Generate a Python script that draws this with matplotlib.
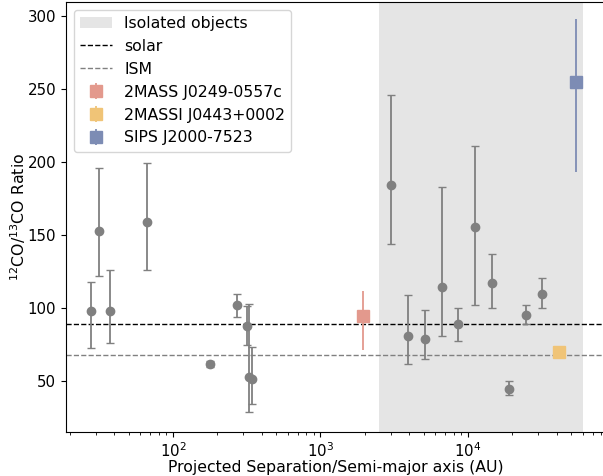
import numpy as np
import matplotlib.pyplot as plt

# Companion / isolated objects (gray points)
sep = [27.8, 31.6, 37.6, 66.4, 178, 273, 319, 329, 345,
       2990, 3900, 5080, 6640, 8590, 11150, 14550, 18900, 24600, 31900]
ratio = [97.7, 153.0, 97.7, 159.0, 61.6, 101.8, 87.8, 52.5, 51.5,
         184.2, 80.9, 78.9, 114.0, 89.0, 155.1, 116.9, 44.6, 95.4, 109.6]
err_up = [20.2, 43.1, 28.2, 39.9, 2.0, 8.0, 13.3, 50.2, 22.1,
          61.3, 28.1, 19.9, 69.1, 10.7, 55.9, 20.0, 5.1, 6.7, 10.6]
err_lo = [25.0, 31.2, 21.8, 33.1, 2.0, 7.8, 13.1, 23.7, 16.9,
          40.4, 19.3, 14.0, 33.1, 11.3, 53.0, 17.2, 4.1, 6.2, 9.9]

# highlighted objects
names = ["2MASS J0249-0557c", "2MASSI J0443+0002", "SIPS J2000-7523"]
hl_sep = [1950, 41400, 54000]
hl_ratio = [94.7, 69.7, 254.5]
hl_up = [17.2, 3.9, 43.4]
hl_lo = [23.4, 4.8, 61.5]
hl_colors = ["#E3998D", "#F0C477", "#7D8CB4"]

solar = 89
ism = 68

fig = plt.figure(figsize=(6.03, 4.76), dpi=100)
ax = fig.add_axes([66 / 603, 44 / 476, 539 / 603, 430 / 476])

ax.axvspan(2500, 60000, color="#e5e5e5", lw=0, label="Isolated objects", zorder=0)
ax.axhline(solar, color="black", ls="--", lw=1, label="solar", zorder=1)
ax.axhline(ism, color="gray", ls="--", lw=1, label="ISM", zorder=1)

ax.errorbar(sep, ratio, yerr=[err_lo, err_up], fmt="o", color="gray",
            ecolor="gray", elinewidth=1.3, capsize=3, markersize=6, zorder=3)

for i in range(len(names)):
    ax.errorbar([hl_sep[i]], [hl_ratio[i]], yerr=[[hl_lo[i]], [hl_up[i]]],
                fmt="s", color=hl_colors[i], elinewidth=1.3, markersize=8,
                label=names[i], zorder=4)

ax.set_xscale("log")
ax.set_xlim(18.8, 85000)
ax.set_ylim(15.1, 309.4)
ax.tick_params(labelsize=10.8)
ax.set_xlabel("Projected Separation/Semi-major axis (AU)", fontsize=11.3, labelpad=0)
ax.set_ylabel(r"$^{12}$CO/$^{13}$CO Ratio", fontsize=11.3, labelpad=0)
ax.legend(loc="upper left", fontsize=11.3)

fig.savefig("out.png", dpi=100)
